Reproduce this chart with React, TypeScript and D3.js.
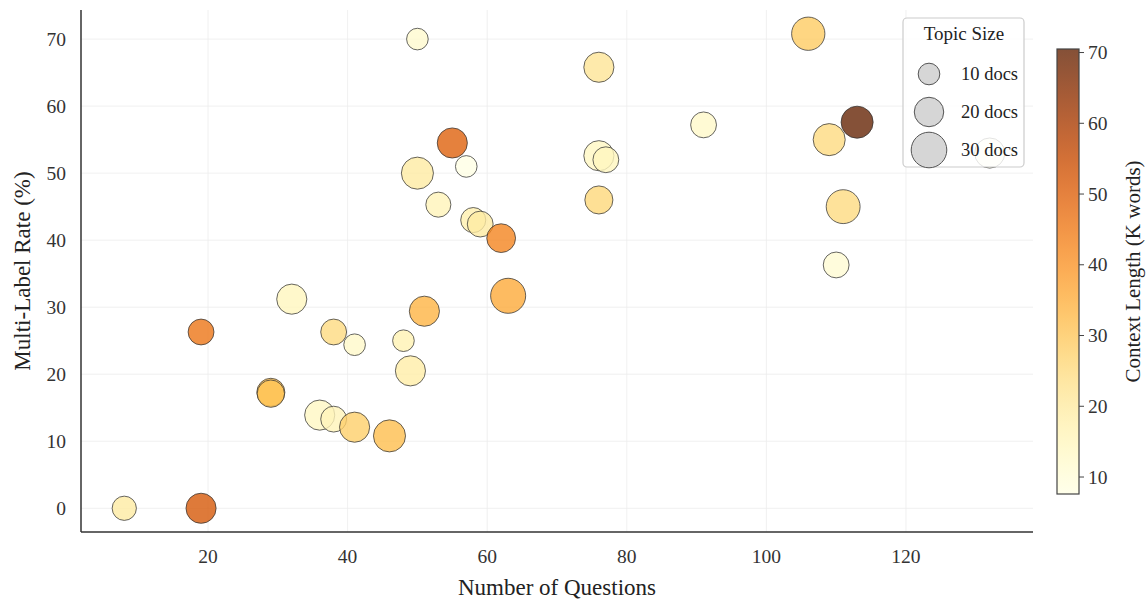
import React from "react";
import * as d3 from "d3";

const questions = [8, 19, 19, 29, 29, 32, 36, 38, 38, 41, 41, 46, 48, 49, 50, 50, 51, 53, 55, 57, 58, 59, 62, 63, 76, 76, 77, 76, 91, 106, 109, 113, 111, 110, 132];
const multiLabel = [0, 0, 26.3, 17.3, 17.1, 31.2, 13.9, 13.3, 26.3, 24.4, 12.1, 10.8, 25, 20.5, 70, 50, 29.4, 45.3, 54.5, 51, 43, 42.4, 40.3, 31.7, 65.8, 52.6, 52, 46, 57.2, 70.8, 55, 57.6, 45, 36.3, 53];
const contextLen = [20, 52, 46, 32, 31, 15, 14, 16, 25, 13, 28, 32, 17, 19, 12, 20, 34, 16, 50, 7.6, 18, 20, 43, 36, 22, 14, 15, 26, 13, 29, 25, 70.5, 25, 11, 9];
const topicDocs = [13, 21, 15, 18, 17, 21, 21, 15, 15, 10, 21, 24, 10, 21, 10, 24, 21, 14, 21, 10, 14, 15, 19, 29, 21, 21, 15, 18, 15, 26, 24, 24, 27, 15, 21];

const xTicks = [20, 40, 60, 80, 100, 120];
const yTicks = [0, 10, 20, 30, 40, 50, 60, 70];
const cTicks = [10, 20, 30, 40, 50, 60, 70];
const legendDocs = [10, 20, 30];

const W = 1148, H = 604;
const M = { left: 81, right: 1033, top: 10, bottom: 532 };
const font = "'Liberation Serif', 'DejaVu Serif', serif";

export default function App() {
  const x = d3.scaleLinear().domain([1.8, 138.2]).range([M.left, M.right]);
  const y = d3.scaleLinear().domain([-3.54, 74.34]).range([M.bottom, M.top]);
  const cMin = 7.6, cMax = 70.5;
  const color = (v: number) => d3.interpolateYlOrBr((v - cMin) / (cMax - cMin));
  const r = (d: number) => Math.sqrt(17 + 10 * d);
  const cb = { x: 1057, w: 22, top: 49, bottom: 494 };
  const cy = d3.scaleLinear().domain([cMin, cMax]).range([cb.bottom, cb.top]);
  const stops = d3.range(0, 1.0001, 0.05);
  const idx = d3.range(questions.length);

  return (
    <svg width={W} height={H} style={{ position: "absolute", left: 0, top: 0, background: "#fff" }} fontFamily={font}>
      <defs>
        <linearGradient id="cbg" x1="0" y1="1" x2="0" y2="0">
          {stops.map((t) => (
            <stop key={t} offset={t} stopColor={d3.interpolateYlOrBr(t)} stopOpacity={0.8} />
          ))}
        </linearGradient>
      </defs>
      {/* grid */}
      <g stroke="#ececec" strokeWidth={0.8}>
        {xTicks.map((t) => (
          <line key={"gx" + t} x1={x(t)} x2={x(t)} y1={M.top} y2={M.bottom} />
        ))}
        {yTicks.map((t) => (
          <line key={"gy" + t} x1={M.left} x2={M.right} y1={y(t)} y2={y(t)} />
        ))}
      </g>
      {/* points */}
      <g>
        {idx.map((i) => (
          <circle
            key={i}
            cx={x(questions[i])}
            cy={y(multiLabel[i])}
            r={r(topicDocs[i])}
            fill={color(contextLen[i])}
            fillOpacity={0.8}
            stroke="#333"
            strokeOpacity={0.75}
            strokeWidth={1}
          />
        ))}
      </g>
      {/* spines */}
      <line x1={M.left} x2={M.left} y1={M.top} y2={M.bottom} stroke="#333" strokeWidth={1.5} />
      <line x1={M.left} x2={M.right} y1={M.bottom} y2={M.bottom} stroke="#333" strokeWidth={1.5} />
      {/* tick labels */}
      <g fontSize={19.5} fill="#333">
        {xTicks.map((t) => (
          <text key={"tx" + t} x={x(t)} y={563} textAnchor="middle">{t}</text>
        ))}
        {yTicks.map((t) => (
          <text key={"ty" + t} x={66} y={y(t) + 6.5} textAnchor="end">{t}</text>
        ))}
      </g>
      <text x={(M.left + M.right) / 2} y={595} textAnchor="middle" fontSize={23} fill="#222">Number of Questions</text>
      <text transform={`translate(30,${(M.top + M.bottom) / 2}) rotate(-90)`} textAnchor="middle" fontSize={23} fill="#222">Multi-Label Rate (%)</text>
      {/* legend */}
      <g>
        <rect x={903} y={18} width={121} height={149} rx={4} fill="#fff" fillOpacity={0.82} stroke="#ccc" strokeWidth={1.2} />
        <text x={964} y={40} textAnchor="middle" fontSize={19} fill="#222">Topic Size</text>
        {legendDocs.map((d, i) => (
          <g key={"lg" + d}>
            <circle cx={929} cy={74 + i * 38} r={r(d)} fill="#d6d6d6" stroke="#555" strokeWidth={1} />
            <text x={961} y={80 + i * 38} fontSize={18.5} fill="#222">{d} docs</text>
          </g>
        ))}
      </g>
      {/* colorbar */}
      <rect x={cb.x} y={cb.top} width={cb.w} height={cb.bottom - cb.top} fill="url(#cbg)" stroke="#444" strokeWidth={1.2} />
      <g fontSize={19.5} fill="#333">
        {cTicks.map((t) => (
          <g key={"ct" + t}>
            <line x1={cb.x + cb.w} x2={cb.x + cb.w + 5} y1={cy(t)} y2={cy(t)} stroke="#444" strokeWidth={1} />
            <text x={cb.x + cb.w + 9} y={cy(t) + 6.5}>{t}</text>
          </g>
        ))}
      </g>
      <text transform={`translate(1140,${(cb.top + cb.bottom) / 2}) rotate(-90)`} textAnchor="middle" fontSize={21} fill="#222">Context Length (K  words)</text>
    </svg>
  );
}
